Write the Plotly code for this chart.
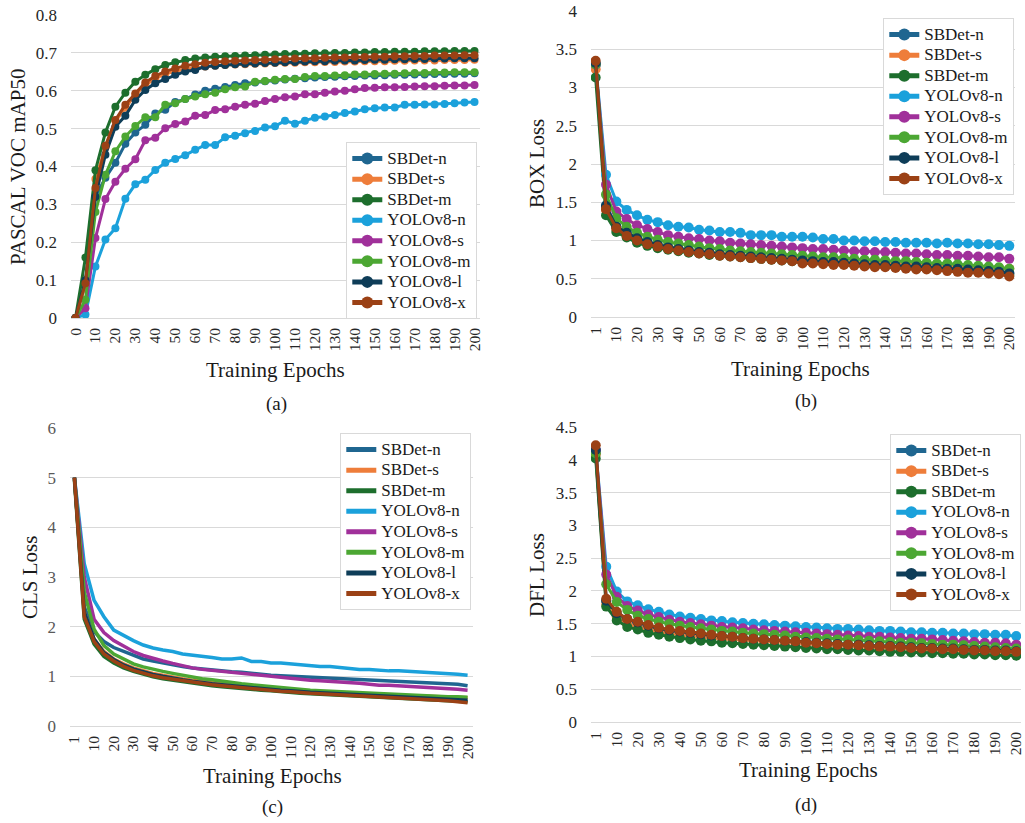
import plotly.graph_objects as go

# ---------------- data ----------------
series_names = ["SBDet-n", "SBDet-s", "SBDet-m", "YOLOv8-n", "YOLOv8-s", "YOLOv8-m", "YOLOv8-l", "YOLOv8-x"]
colors = ["#1f6690", "#ee7d3a", "#1d6e2d", "#1ba1db", "#a0309a", "#4ca733", "#0e3d58", "#9b4115"]

epochs_map = [str(v) for v in range(0, 201, 5)]
ticks_map = [str(v) for v in range(0, 201, 10)]
epochs_loss = ["1"] + [str(v) for v in range(5, 201, 5)]
ticks_loss = ["1"] + [str(v) for v in range(10, 201, 10)]

# (a) PASCAL VOC mAP50
map_sbdet_n = [0, 0.09, 0.32, 0.37, 0.41, 0.46, 0.49, 0.51, 0.54, 0.55, 0.57, 0.578, 0.59, 0.60, 0.605, 0.61, 0.615, 0.62, 0.622, 0.625, 0.627, 0.63, 0.632, 0.633, 0.635, 0.636, 0.637, 0.638, 0.639, 0.640, 0.640, 0.641, 0.642, 0.642, 0.643, 0.643, 0.644, 0.644, 0.645, 0.645, 0.646]
map_sbdet_s = [0, 0.09, 0.367, 0.45, 0.52, 0.555, 0.59, 0.615, 0.632, 0.645, 0.652, 0.657, 0.661, 0.664, 0.666, 0.668, 0.669, 0.670, 0.671, 0.672, 0.673, 0.674, 0.674, 0.675, 0.675, 0.676, 0.676, 0.677, 0.677, 0.678, 0.678, 0.678, 0.679, 0.679, 0.680, 0.680, 0.680, 0.681, 0.681, 0.681, 0.682]
map_sbdet_m = [0, 0.16, 0.39, 0.49, 0.558, 0.595, 0.624, 0.642, 0.657, 0.668, 0.675, 0.681, 0.685, 0.688, 0.690, 0.691, 0.692, 0.693, 0.694, 0.695, 0.696, 0.697, 0.697, 0.698, 0.699, 0.699, 0.700, 0.700, 0.701, 0.701, 0.702, 0.702, 0.703, 0.703, 0.703, 0.704, 0.704, 0.704, 0.705, 0.705, 0.705]
map_yolo_n = [0, 0.009, 0.136, 0.207, 0.237, 0.315, 0.353, 0.365, 0.391, 0.41, 0.42, 0.43, 0.444, 0.457, 0.457, 0.477, 0.481, 0.488, 0.494, 0.503, 0.506, 0.521, 0.513, 0.521, 0.529, 0.532, 0.536, 0.541, 0.545, 0.551, 0.554, 0.556, 0.556, 0.563, 0.563, 0.564, 0.564, 0.565, 0.567, 0.569, 0.570]
map_yolo_s = [0, 0.026, 0.211, 0.314, 0.36, 0.394, 0.419, 0.469, 0.476, 0.501, 0.512, 0.519, 0.534, 0.536, 0.549, 0.551, 0.558, 0.563, 0.566, 0.573, 0.578, 0.583, 0.585, 0.591, 0.591, 0.595, 0.598, 0.600, 0.604, 0.607, 0.608, 0.609, 0.609, 0.610, 0.611, 0.612, 0.612, 0.613, 0.614, 0.614, 0.615]
map_yolo_m = [0, 0.048, 0.28, 0.378, 0.44, 0.479, 0.507, 0.53, 0.53, 0.563, 0.567, 0.578, 0.585, 0.591, 0.595, 0.604, 0.609, 0.611, 0.624, 0.626, 0.629, 0.631, 0.631, 0.636, 0.639, 0.639, 0.640, 0.641, 0.643, 0.643, 0.644, 0.645, 0.645, 0.646, 0.647, 0.647, 0.648, 0.648, 0.649, 0.649, 0.649]
map_yolo_l = [0, 0.10, 0.32, 0.431, 0.505, 0.534, 0.576, 0.602, 0.62, 0.631, 0.642, 0.651, 0.655, 0.664, 0.666, 0.668, 0.670, 0.671, 0.672, 0.673, 0.674, 0.675, 0.676, 0.677, 0.678, 0.678, 0.679, 0.680, 0.680, 0.681, 0.682, 0.682, 0.683, 0.683, 0.684, 0.684, 0.685, 0.685, 0.686, 0.686, 0.686]
map_yolo_x = [0, 0.092, 0.343, 0.455, 0.523, 0.563, 0.593, 0.622, 0.639, 0.651, 0.659, 0.666, 0.670, 0.674, 0.676, 0.678, 0.679, 0.680, 0.681, 0.682, 0.683, 0.684, 0.685, 0.686, 0.686, 0.687, 0.688, 0.688, 0.689, 0.689, 0.690, 0.690, 0.691, 0.691, 0.692, 0.692, 0.693, 0.693, 0.693, 0.694, 0.694]

# (b) BOX loss
box_sbdet_n = [3.30, 1.46, 1.18, 1.10, 1.03, 0.98, 0.95, 0.92, 0.90, 0.88, 0.86, 0.85, 0.83, 0.82, 0.81, 0.80, 0.79, 0.78, 0.77, 0.76, 0.75, 0.74, 0.73, 0.73, 0.72, 0.71, 0.70, 0.70, 0.69, 0.68, 0.68, 0.67, 0.66, 0.65, 0.65, 0.64, 0.63, 0.62, 0.61, 0.60, 0.58]
box_sbdet_s = [3.24, 1.40, 1.15, 1.07, 1.00, 0.96, 0.93, 0.91, 0.89, 0.87, 0.86, 0.84, 0.83, 0.82, 0.81, 0.80, 0.79, 0.78, 0.77, 0.77, 0.76, 0.75, 0.74, 0.74, 0.73, 0.72, 0.72, 0.71, 0.71, 0.70, 0.69, 0.69, 0.68, 0.68, 0.67, 0.66, 0.66, 0.65, 0.64, 0.64, 0.63]
box_sbdet_m = [3.13, 1.33, 1.11, 1.04, 0.97, 0.93, 0.90, 0.88, 0.86, 0.84, 0.83, 0.81, 0.80, 0.79, 0.78, 0.77, 0.76, 0.75, 0.74, 0.73, 0.72, 0.71, 0.71, 0.70, 0.69, 0.68, 0.68, 0.67, 0.66, 0.65, 0.65, 0.64, 0.63, 0.62, 0.62, 0.61, 0.60, 0.59, 0.58, 0.57, 0.55]
box_yolo_n = [3.30, 1.86, 1.51, 1.40, 1.33, 1.27, 1.24, 1.20, 1.18, 1.17, 1.14, 1.13, 1.11, 1.11, 1.10, 1.07, 1.07, 1.07, 1.05, 1.05, 1.05, 1.04, 1.02, 1.02, 1.00, 1.00, 0.99, 0.99, 0.98, 0.98, 0.97, 0.97, 0.97, 0.96, 0.97, 0.96, 0.96, 0.95, 0.95, 0.94, 0.93]
box_yolo_s = [3.30, 1.73, 1.38, 1.28, 1.20, 1.15, 1.11, 1.07, 1.05, 1.03, 1.02, 1.00, 0.99, 0.97, 0.96, 0.95, 0.94, 0.93, 0.92, 0.91, 0.90, 0.89, 0.89, 0.88, 0.87, 0.86, 0.86, 0.85, 0.85, 0.84, 0.83, 0.83, 0.82, 0.81, 0.81, 0.80, 0.80, 0.79, 0.78, 0.78, 0.76]
box_yolo_m = [3.30, 1.60, 1.29, 1.18, 1.10, 1.05, 1.01, 0.98, 0.96, 0.94, 0.92, 0.90, 0.89, 0.87, 0.86, 0.85, 0.84, 0.83, 0.82, 0.81, 0.80, 0.79, 0.78, 0.78, 0.77, 0.76, 0.75, 0.75, 0.74, 0.73, 0.73, 0.72, 0.71, 0.70, 0.70, 0.69, 0.68, 0.67, 0.66, 0.65, 0.63]
box_yolo_l = [3.32, 1.45, 1.18, 1.10, 1.03, 0.98, 0.94, 0.91, 0.89, 0.87, 0.85, 0.84, 0.82, 0.81, 0.80, 0.79, 0.78, 0.77, 0.76, 0.75, 0.74, 0.73, 0.72, 0.72, 0.71, 0.70, 0.69, 0.68, 0.68, 0.67, 0.66, 0.66, 0.65, 0.64, 0.63, 0.63, 0.62, 0.61, 0.60, 0.59, 0.57]
box_yolo_x = [3.35, 1.41, 1.16, 1.06, 1.00, 0.95, 0.92, 0.89, 0.87, 0.85, 0.83, 0.82, 0.80, 0.79, 0.78, 0.77, 0.76, 0.75, 0.74, 0.73, 0.70, 0.70, 0.69, 0.68, 0.68, 0.67, 0.66, 0.65, 0.65, 0.64, 0.63, 0.62, 0.62, 0.61, 0.60, 0.59, 0.58, 0.58, 0.57, 0.56, 0.53]

# (c) CLS loss
cls_sbdet_n = [5.0, 2.4, 1.90, 1.70, 1.58, 1.50, 1.42, 1.35, 1.31, 1.27, 1.23, 1.20, 1.17, 1.15, 1.12, 1.10, 1.09, 1.08, 1.06, 1.03, 1.02, 1.01, 1.00, 0.99, 0.98, 0.97, 0.96, 0.95, 0.94, 0.93, 0.92, 0.92, 0.91, 0.90, 0.89, 0.88, 0.87, 0.86, 0.85, 0.84, 0.81]
cls_sbdet_s = [5.0, 2.3, 1.75, 1.50, 1.35, 1.25, 1.17, 1.11, 1.06, 1.02, 0.98, 0.95, 0.92, 0.90, 0.87, 0.85, 0.83, 0.81, 0.79, 0.77, 0.76, 0.74, 0.73, 0.71, 0.70, 0.69, 0.68, 0.67, 0.66, 0.65, 0.64, 0.63, 0.62, 0.62, 0.61, 0.60, 0.60, 0.59, 0.58, 0.58, 0.57]
cls_sbdet_m = [4.95, 2.15, 1.65, 1.40, 1.27, 1.17, 1.10, 1.04, 0.99, 0.95, 0.92, 0.89, 0.86, 0.84, 0.81, 0.79, 0.77, 0.75, 0.73, 0.72, 0.71, 0.69, 0.68, 0.66, 0.65, 0.64, 0.63, 0.62, 0.61, 0.60, 0.59, 0.58, 0.57, 0.56, 0.55, 0.54, 0.53, 0.52, 0.51, 0.50, 0.49]
cls_yolo_n = [5.0, 3.27, 2.53, 2.20, 1.93, 1.82, 1.72, 1.63, 1.57, 1.53, 1.50, 1.45, 1.43, 1.40, 1.38, 1.35, 1.35, 1.37, 1.30, 1.30, 1.27, 1.27, 1.25, 1.23, 1.21, 1.20, 1.20, 1.18, 1.16, 1.14, 1.14, 1.12, 1.11, 1.11, 1.10, 1.09, 1.08, 1.07, 1.06, 1.04, 1.02]
cls_yolo_s = [5.0, 3.0, 2.15, 1.88, 1.72, 1.60, 1.50, 1.42, 1.36, 1.31, 1.26, 1.21, 1.17, 1.14, 1.12, 1.09, 1.07, 1.06, 1.04, 1.01, 1.00, 0.98, 0.96, 0.94, 0.92, 0.91, 0.90, 0.88, 0.87, 0.86, 0.84, 0.82, 0.82, 0.81, 0.80, 0.79, 0.78, 0.77, 0.76, 0.74, 0.72]
cls_yolo_m = [5.0, 2.7, 1.95, 1.62, 1.45, 1.34, 1.25, 1.19, 1.14, 1.10, 1.06, 1.02, 0.99, 0.95, 0.93, 0.90, 0.88, 0.85, 0.83, 0.81, 0.79, 0.77, 0.76, 0.74, 0.72, 0.71, 0.70, 0.69, 0.68, 0.67, 0.66, 0.65, 0.64, 0.63, 0.62, 0.62, 0.61, 0.60, 0.59, 0.59, 0.58]
cls_yolo_l = [5.0, 2.3, 1.75, 1.48, 1.34, 1.23, 1.15, 1.09, 1.04, 1.00, 0.96, 0.93, 0.90, 0.87, 0.85, 0.83, 0.81, 0.79, 0.77, 0.75, 0.74, 0.72, 0.71, 0.69, 0.68, 0.67, 0.66, 0.65, 0.64, 0.63, 0.62, 0.61, 0.60, 0.59, 0.58, 0.57, 0.56, 0.55, 0.54, 0.53, 0.52]
cls_yolo_x = [5.0, 2.2, 1.70, 1.45, 1.31, 1.20, 1.12, 1.06, 1.01, 0.97, 0.94, 0.91, 0.88, 0.85, 0.83, 0.81, 0.79, 0.77, 0.75, 0.73, 0.72, 0.70, 0.69, 0.67, 0.66, 0.65, 0.64, 0.63, 0.62, 0.61, 0.60, 0.59, 0.58, 0.57, 0.56, 0.55, 0.53, 0.52, 0.51, 0.49, 0.47]

# (d) DFL loss
dfl_sbdet_n = [4.10, 1.85, 1.62, 1.53, 1.47, 1.43, 1.40, 1.37, 1.35, 1.33, 1.31, 1.30, 1.28, 1.27, 1.26, 1.25, 1.24, 1.23, 1.22, 1.21, 1.20, 1.19, 1.18, 1.17, 1.16, 1.16, 1.15, 1.14, 1.14, 1.13, 1.12, 1.11, 1.11, 1.10, 1.10, 1.09, 1.09, 1.08, 1.08, 1.07, 1.06]
dfl_sbdet_s = [4.08, 1.80, 1.60, 1.50, 1.45, 1.41, 1.38, 1.35, 1.33, 1.31, 1.30, 1.28, 1.27, 1.26, 1.25, 1.24, 1.23, 1.22, 1.21, 1.20, 1.19, 1.18, 1.17, 1.16, 1.16, 1.15, 1.14, 1.13, 1.13, 1.12, 1.11, 1.11, 1.10, 1.10, 1.09, 1.08, 1.08, 1.07, 1.07, 1.06, 1.05]
dfl_sbdet_m = [4.02, 1.76, 1.55, 1.45, 1.41, 1.36, 1.33, 1.30, 1.28, 1.26, 1.24, 1.23, 1.21, 1.20, 1.19, 1.18, 1.17, 1.16, 1.15, 1.14, 1.13, 1.12, 1.11, 1.11, 1.10, 1.09, 1.09, 1.08, 1.07, 1.07, 1.06, 1.06, 1.05, 1.05, 1.04, 1.04, 1.03, 1.03, 1.02, 1.02, 1.01]
dfl_yolo_n = [4.15, 2.37, 1.99, 1.84, 1.78, 1.72, 1.68, 1.64, 1.61, 1.59, 1.57, 1.55, 1.54, 1.52, 1.51, 1.50, 1.49, 1.48, 1.47, 1.46, 1.45, 1.44, 1.43, 1.42, 1.42, 1.41, 1.40, 1.39, 1.39, 1.38, 1.37, 1.37, 1.36, 1.36, 1.35, 1.35, 1.34, 1.34, 1.33, 1.33, 1.31]
dfl_yolo_s = [4.15, 2.25, 1.91, 1.77, 1.70, 1.64, 1.60, 1.56, 1.53, 1.51, 1.49, 1.47, 1.45, 1.44, 1.43, 1.41, 1.40, 1.39, 1.38, 1.37, 1.36, 1.35, 1.34, 1.33, 1.32, 1.31, 1.30, 1.30, 1.29, 1.28, 1.27, 1.27, 1.26, 1.25, 1.24, 1.23, 1.22, 1.21, 1.21, 1.20, 1.18]
dfl_yolo_m = [4.10, 2.10, 1.83, 1.71, 1.62, 1.57, 1.53, 1.50, 1.47, 1.45, 1.43, 1.41, 1.39, 1.38, 1.36, 1.35, 1.34, 1.33, 1.32, 1.30, 1.29, 1.28, 1.27, 1.26, 1.26, 1.25, 1.24, 1.23, 1.22, 1.21, 1.21, 1.20, 1.19, 1.18, 1.18, 1.17, 1.16, 1.15, 1.14, 1.13, 1.12]
dfl_yolo_l = [4.15, 1.85, 1.66, 1.57, 1.52, 1.47, 1.43, 1.40, 1.38, 1.36, 1.34, 1.32, 1.31, 1.30, 1.28, 1.27, 1.26, 1.25, 1.24, 1.23, 1.22, 1.21, 1.20, 1.19, 1.18, 1.18, 1.17, 1.16, 1.16, 1.15, 1.14, 1.13, 1.13, 1.12, 1.12, 1.11, 1.10, 1.10, 1.09, 1.09, 1.08]
dfl_yolo_x = [4.22, 1.88, 1.68, 1.57, 1.53, 1.48, 1.44, 1.41, 1.39, 1.37, 1.35, 1.33, 1.31, 1.30, 1.28, 1.27, 1.26, 1.25, 1.24, 1.23, 1.21, 1.20, 1.19, 1.18, 1.18, 1.17, 1.16, 1.15, 1.15, 1.14, 1.13, 1.12, 1.12, 1.11, 1.11, 1.10, 1.09, 1.09, 1.08, 1.08, 1.07]

map_data = [map_sbdet_n, map_sbdet_s, map_sbdet_m, map_yolo_n, map_yolo_s, map_yolo_m, map_yolo_l, map_yolo_x]
box_data = [box_sbdet_n, box_sbdet_s, box_sbdet_m, box_yolo_n, box_yolo_s, box_yolo_m, box_yolo_l, box_yolo_x]
cls_data = [cls_sbdet_n, cls_sbdet_s, cls_sbdet_m, cls_yolo_n, cls_yolo_s, cls_yolo_m, cls_yolo_l, cls_yolo_x]
dfl_data = [dfl_sbdet_n, dfl_sbdet_s, dfl_sbdet_m, dfl_yolo_n, dfl_yolo_s, dfl_yolo_m, dfl_yolo_l, dfl_yolo_x]

# ---------------- figure ----------------
W, H = 1025, 823
FONT = "Liberation Serif"
LEG_TEXT_SIZE = 17

def px(x):
    return x / W

def py(y):
    return 1 - y / H

fig = go.Figure()

panels = [
    dict(data=map_data, x=epochs_map, ax="", leg="legend", mode="lines+markers", ms=8, lw=3),
    dict(data=box_data, x=epochs_loss, ax="2", leg="legend2", mode="lines+markers", ms=10, lw=3),
    dict(data=cls_data, x=epochs_loss, ax="3", leg="legend3", mode="lines", ms=0, lw=3.5),
    dict(data=dfl_data, x=epochs_loss, ax="4", leg="legend4", mode="lines+markers", ms=10, lw=3),
]

for p in panels:
    for name, col, vals in zip(series_names, colors, p["data"]):
        n = min(len(vals), len(p["x"]))
        fig.add_trace(go.Scatter(
            x=p["x"][:n], y=vals[:n],
            name=f'<span style="font-size:{LEG_TEXT_SIZE}px">{name}</span>',
            mode=p["mode"],
            line=dict(color=col, width=p["lw"]),
            marker=dict(color=col, size=p["ms"]),
            xaxis="x" + p["ax"], yaxis="y" + p["ax"],
            legend=p["leg"],
        ))

grid = "#d9d9d9"

def xaxis(dom, anchor, ticks, cats, hi=0.55):
    return dict(domain=dom, anchor=anchor, type="category", categoryorder="array", categoryarray=cats,
                range=[-0.45, len(cats) - 1 + hi], tickmode="array", tickvals=ticks, ticktext=ticks,
                tickangle=-90, showgrid=False, showline=False, zeroline=False, ticks="", automargin=False,
                tickfont=dict(family=FONT, size=15.5, color="#262626"), ticklabelstandoff=6)

def yaxis(dom, anchor, rng, dtick, color="#262626"):
    return dict(domain=dom, anchor=anchor, range=rng, dtick=dtick, tick0=0, showgrid=True, gridcolor=grid,
                gridwidth=1.3, zeroline=True, zerolinecolor=grid, zerolinewidth=1.3, showline=False, ticks="",
                automargin=False, tickfont=dict(family=FONT, size=17, color=color), ticklabelstandoff=13)

dom_a_x = [px(71), px(480)]; dom_a_y = [py(318), py(15)]
dom_b_x = [px(591), px(1015)]; dom_b_y = [py(317), py(11)]
dom_c_x = [px(70), px(473)]; dom_c_y = [py(726), py(428)]
dom_d_x = [px(591), px(1021)]; dom_d_y = [py(722), py(427)]

def legend(xr, yt):
    return dict(x=px(xr), y=py(yt), xanchor="right", yanchor="top", bgcolor="white",
                bordercolor=grid, borderwidth=1.3, font=dict(family=FONT, size=13.5, color="#1a1a1a"),
                tracegroupgap=0, itemsizing="constant")

annotations = []
def ann(text, x, y, size=21, angle=0):
    annotations.append(dict(text=text, x=px(x), y=py(y), xref="paper", yref="paper", showarrow=False,
                            textangle=angle, font=dict(family=FONT, size=size, color="#1a1a1a"),
                            xanchor="center", yanchor="middle"))

ann("PASCAL VOC mAP50", 18, 167, 21, -90)
ann("BOX Loss", 537, 164, 21, -90)
ann("CLS Loss", 30, 578, 21, -90)
ann("DFL Loss", 537, 575, 21, -90)
ann("Training Epochs", 275, 370, 21)
ann("Training Epochs", 800, 369, 21)
ann("Training Epochs", 272, 776, 21)
ann("Training Epochs", 808, 770, 21)
ann("(a)", 276, 404, 19)
ann("(b)", 806, 401, 19)
ann("(c)", 272, 807, 19)
ann("(d)", 806, 805, 19)

fig.update_layout(
    width=W, height=H, margin=dict(l=0, r=0, t=0, b=0, autoexpand=False),
    paper_bgcolor="white", plot_bgcolor="white",
    font=dict(family=FONT),
    xaxis=xaxis(dom_a_x, "y", ticks_map, epochs_map),
    yaxis=yaxis(dom_a_y, "x", [0, 0.8], 0.1),
    xaxis2=xaxis(dom_b_x, "y2", ticks_loss, epochs_loss),
    yaxis2=yaxis(dom_b_y, "x2", [0, 4], 0.5),
    xaxis3=xaxis(dom_c_x, "y3", ticks_loss, epochs_loss),
    yaxis3=yaxis(dom_c_y, "x3", [0, 6], 1, "#595959"),
    xaxis4=xaxis(dom_d_x, "y4", ticks_loss, epochs_loss, 0.45),
    yaxis4=yaxis(dom_d_y, "x4", [0, 4.5], 0.5),
    legend=legend(477, 142),
    legend2=legend(1014, 18),
    legend3=legend(471, 433),
    legend4=legend(1021, 434),
    annotations=annotations,
    showlegend=True,
)

fig.write_html("out.html", config={"displayModeBar": False},
               post_script="document.body.style.margin='0';document.body.style.overflow='hidden';")
